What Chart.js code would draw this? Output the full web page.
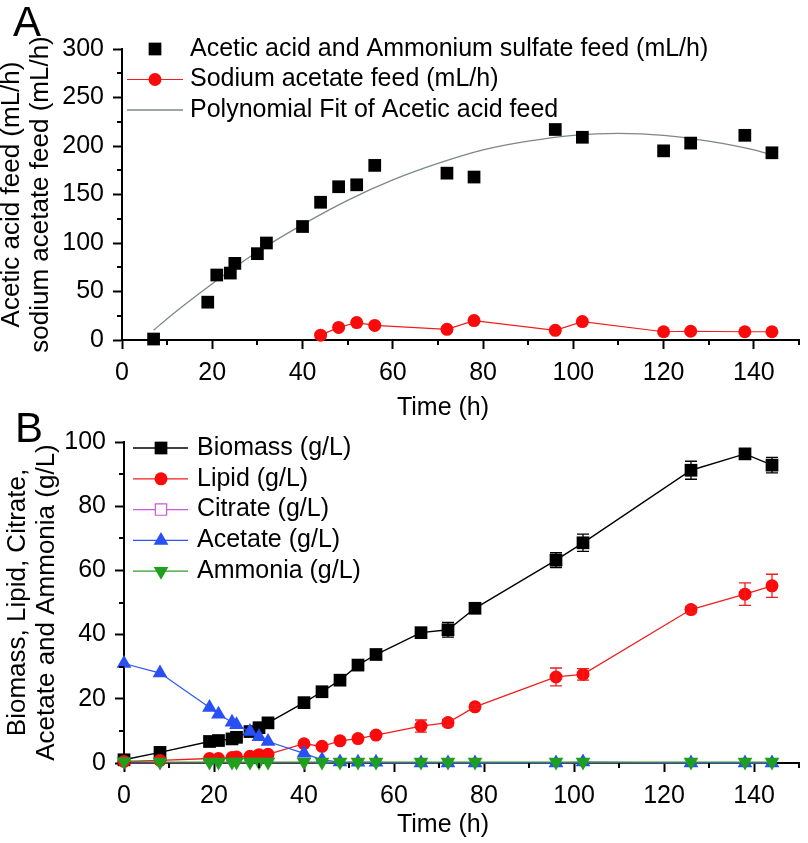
<!DOCTYPE html>
<html>
<head>
<meta charset="utf-8">
<title>Feed rates and fermentation profile</title>
<script src="https://cdn.jsdelivr.net/npm/chart.js@4.4.1/dist/chart.umd.min.js"></script>
<style>
  html, body { margin: 0; padding: 0; background: #fff; }
  #wrap { position: relative; width: 808px; height: 843px; overflow: hidden; }
  canvas { position: absolute; left: 0; }
  #graficoA { top: 0; }
  #graficoB { top: 400px; }
</style>
</head>
<body>
<div id="wrap">
  <canvas id="graficoA" width="808" height="425"></canvas>
  <canvas id="graficoB" width="808" height="443"></canvas>
</div>
<script>
// ---- Panel A: caudales de alimentacion (mL/h) ----
const tiempoAcido = [7, 19, 21, 24, 25, 30, 32, 40, 44, 48, 52, 56, 72, 78, 96, 102, 120, 126, 138, 144];
const acidoFeed = [1, 39, 67, 69, 79, 89, 100, 117, 142, 158, 160, 180, 172, 168, 217, 209, 195, 203, 211, 193];

const tiempoAcetatoNa = [44, 48, 52, 56, 72, 78, 96, 102, 120, 126, 138, 144];
const acetatoNaFeed = [5, 13, 18, 15, 11, 20, 10, 19, 8.5, 9, 8.5, 8.5];

// curva de ajuste
const tiempoAjuste = [7, 10, 20, 30, 40, 50, 60, 70, 80, 90, 100, 110, 120, 130, 140, 144];
const ajustePolinomico = [10, 22, 58, 91, 119, 144, 165, 182, 196, 205, 211, 213, 211, 205, 196, 191];

// ---- Panel B: concentraciones (g/L) ----
const tiempo = [0, 8, 19, 21, 24, 25, 28, 30, 32, 40, 44, 48, 52, 56, 66, 72, 78, 96, 102, 126, 138, 144];
const biomasa = [1, 3.3, 6.7, 7, 7.5, 8, 9.8, 11, 12.5, 18.8, 22.2, 25.8, 30.5, 33.8, 40.6, 41.5, 48.2, 63.2, 68.6, 91.2, 96.3, 92.8];
const biomasaErr = [0, 0, 0, 0, 0, 0, 0, 0, 0, 0, 0, 0, 0, 0, 1, 2.3, 0.5, 2.3, 2.7, 2.8, 1, 2.4];
const lipido = [0.5, 0.8, 1.4, 1.4, 1.7, 1.9, 2.1, 2.6, 2.7, 6, 5.2, 6.9, 7.6, 8.7, 11.5, 12.6, 17.5, 26.8, 27.6, 47.8, 52.6, 55.2];
const lipidoErr = [0, 0, 0, 0, 0, 0, 0, 0, 0, 0, 0, 0, 0, 0, 1.9, 1, 0.5, 2.8, 1.8, 1, 3.5, 3.6];
const citrato = [0, 0, 0, 0, 0, 0, 0, 0, 0, 0, 0, 0, 0, 0, 0, 0, 0, 0, 0, 0, 0, 0];
const acetato = [31, 28, 17.3, 15.2, 12.7, 11.9, 9.8, 8.2, 6.7, 3, 1, 0.3, 0.2, 0.2, 0, 0, 0, 0, 0.3, 0, 0, 0];
const amonio = [0.5, 0.3, 0.3, 0.3, 0.3, 0.3, 0.3, 0.3, 0.3, 0.3, 0.3, 0.3, 0.3, 0.3, 0.3, 0.3, 0.3, 0.3, 0.3, 0.3, 0.3, 0.3];

// etiquetas
const ejeTiempo = 'Time (h)';
const tituloYA = ['Acetic acid feed (mL/h)', 'sodium acetate feed (mL/h)'];
const tituloYB = ['Biomass, Lipid, Citrate,', 'Acetate and Ammonia (g/L)'];

const FUENTE = 'Arial, "Liberation Sans", sans-serif';
Chart.defaults.font.family = FUENTE;
Chart.defaults.color = '#000';

const puntos = (xs, ys) => xs.map((x, i) => ({ x: x, y: ys[i] }));

// ticks menores (mas cortos) dibujados a mano
const ticksMenores = {
    id: 'ticksMenores',
    afterDraw(chart, args, opts) {
        const { ctx, chartArea, scales } = chart;
        ctx.save();
        ctx.strokeStyle = '#000';
        ctx.lineWidth = 2;
        scales.x.ticks.forEach(t => {
            if (t.value % opts.mayorX === 0) return;
            const px = Math.round(scales.x.getPixelForValue(t.value));
            ctx.beginPath();
            ctx.moveTo(px, chartArea.bottom);
            ctx.lineTo(px, chartArea.bottom + 5);
            ctx.stroke();
        });
        scales.y.ticks.forEach(t => {
            if (t.value % opts.mayorY === 0) return;
            const py = Math.round(scales.y.getPixelForValue(t.value));
            ctx.beginPath();
            ctx.moveTo(chartArea.left, py);
            ctx.lineTo(chartArea.left - 5, py);
            ctx.stroke();
        });
        ctx.restore();
    }
};

// barras de error
const barrasError = {
    id: 'barrasError',
    afterDatasetsDraw(chart) {
        const { ctx, scales: { x, y } } = chart;
        ctx.save();
        chart.data.datasets.forEach(ds => {
            if (!ds.errores) return;
            ctx.strokeStyle = ds.borderColor;
            ctx.lineWidth = 1.3;
            ds.data.forEach((p, i) => {
                const e = ds.errores[i];
                if (!e) return;
                const px = x.getPixelForValue(p.x);
                const y1 = y.getPixelForValue(p.y + e);
                const y2 = y.getPixelForValue(p.y - e);
                ctx.beginPath();
                ctx.moveTo(px, y1); ctx.lineTo(px, y2);
                ctx.moveTo(px - 6, y1); ctx.lineTo(px + 6, y1);
                ctx.moveTo(px - 6, y2); ctx.lineTo(px + 6, y2);
                ctx.stroke();
            });
        });
        ctx.restore();
    }
};

// leyenda dentro del area del grafico
const leyenda = {
    id: 'leyenda',
    afterDraw(chart, args, opts) {
        const ctx = chart.ctx;
        ctx.save();
        ctx.font = '25px ' + FUENTE;
        ctx.textBaseline = 'middle';
        ctx.textAlign = 'left';
        chart.data.datasets.forEach((ds, i) => {
            const y = opts.y + i * opts.paso;
            const radio = ds.radioLeyenda !== undefined ? ds.radioLeyenda : ds.pointRadius;
            if (ds.showLine !== false) {
                ctx.strokeStyle = ds.borderColor;
                ctx.lineWidth = ds.borderWidth;
                ctx.beginPath();
                ctx.moveTo(opts.x1, y);
                ctx.lineTo(opts.x2, y);
                ctx.stroke();
            }
            if (radio > 0) {
                ctx.fillStyle = ds.pointBackgroundColor;
                ctx.strokeStyle = ds.pointBorderColor;
                ctx.lineWidth = ds.pointBorderWidth || 0;
                Chart.helpers.drawPoint(ctx, {
                    pointStyle: ds.pointStyle,
                    radius: radio,
                    rotation: ds.pointRotation || 0,
                    borderWidth: ds.pointBorderWidth || 0
                }, opts.xMarca, y);
            }
            ctx.fillStyle = '#000';
            ctx.fillText(ds.label, opts.xTexto, y);
        });
        ctx.restore();
    }
};

// letra del panel y titulo del eje x
const rotulos = {
    id: 'rotulos',
    afterDraw(chart, args, opts) {
        const ctx = chart.ctx;
        ctx.save();
        ctx.fillStyle = '#000';
        ctx.textBaseline = 'alphabetic';
        ctx.textAlign = 'left';
        ctx.font = '42px ' + FUENTE;
        ctx.fillText(opts.letra, opts.lx, opts.ly);
        ctx.font = '25px ' + FUENTE;
        ctx.textAlign = 'center';
        ctx.textBaseline = 'middle';
        ctx.fillText(ejeTiempo, opts.tx, opts.ty);
        ctx.restore();
    }
};

function ejeX(alto, z) {
    return {
        type: 'linear',
        min: 0, max: 150,
        z: z,
        afterFit: s => { s.height = alto; },
        border: { display: true, color: '#000', width: 2 },
        grid: {
            drawOnChartArea: false,
            tickLength: 9,
            tickWidth: 2,
            tickColor: c => (c.tick && c.tick.value % 20 === 0) ? '#000' : 'rgba(0,0,0,0)'
        },
        ticks: {
            stepSize: 10,
            autoSkip: false,
            maxRotation: 0,
            padding: 9,
            font: { size: 25 },
            callback: v => v % 20 === 0 ? v : ''
        }
    };
}

function ejeY(max, paso, mayor, ancho, titulo, pad) {
    return {
        type: 'linear',
        min: 0, max: max,
        afterFit: s => { s.width = ancho; },
        border: { display: true, color: '#000', width: 2 },
        grid: {
            drawOnChartArea: false,
            tickLength: 9,
            tickWidth: 2,
            tickColor: c => (c.tick && c.tick.value % mayor === 0) ? '#000' : 'rgba(0,0,0,0)'
        },
        ticks: {
            stepSize: paso,
            autoSkip: false,
            padding: 9,
            font: { size: 25 },
            callback: v => v % mayor === 0 ? v : ''
        },
        title: {
            display: true,
            text: titulo,
            font: { size: 26, lineHeight: 1.12 },
            padding: { top: pad, bottom: 0 }
        }
    };
}

// Grafico A
new Chart(document.getElementById('graficoA'), {
    type: 'line',
    data: {
        datasets: [{
            label: 'Acetic acid and Ammonium sulfate feed (mL/h)',
            data: puntos(tiempoAcido, acidoFeed),
            showLine: false,
            borderColor: '#000',
            borderWidth: 1,
            pointStyle: 'rect',
            pointRadius: 9,
            pointBackgroundColor: '#000',
            pointBorderColor: '#000',
            pointBorderWidth: 0,
            order: 1,
            clip: false
        }, {
            label: 'Sodium acetate feed (mL/h)',
            data: puntos(tiempoAcetatoNa, acetatoNaFeed),
            borderColor: 'rgb(240,30,30)',
            borderWidth: 1.2,
            pointStyle: 'circle',
            pointRadius: 6.5,
            pointBackgroundColor: 'rgb(250,10,10)',
            pointBorderColor: 'rgb(250,10,10)',
            pointBorderWidth: 0,
            order: 2,
            clip: false
        }, {
            label: 'Polynomial Fit of Acetic acid feed',
            data: puntos(tiempoAjuste, ajustePolinomico),
            borderColor: 'rgb(125,135,135)',
            borderWidth: 1.3,
            pointRadius: 0,
            cubicInterpolationMode: 'monotone',
            order: 3,
            clip: false
        }]
    },
    options: {
        responsive: false,
        animation: false,
        layout: { padding: { top: 49, right: 7, left: 0, bottom: 0 } },
        scales: {
            x: ejeX(85, 0),
            y: ejeY(300, 25, 50, 122, tituloYA, -3)
        },
        plugins: {
            legend: { display: false },
            tooltip: { enabled: false },
            ticksMenores: { mayorX: 20, mayorY: 50 },
            leyenda: { x1: 127, x2: 183, xMarca: 155, xTexto: 190, y: 49, paso: 30.5 },
            rotulos: { letra: 'A', lx: 13, ly: 36, tx: 443, ty: 408 }
        }
    },
    plugins: [ticksMenores, leyenda, rotulos]
});

// Grafico B
new Chart(document.getElementById('graficoB'), {
    type: 'line',
    data: {
        datasets: [{
            label: 'Biomass (g/L)',
            data: puntos(tiempo, biomasa),
            errores: biomasaErr,
            borderColor: '#000',
            borderWidth: 1.4,
            pointStyle: 'rect',
            pointRadius: 9,
            pointBackgroundColor: '#000',
            pointBorderColor: '#000',
            pointBorderWidth: 0,
            order: 5,
            clip: false
        }, {
            label: 'Lipid (g/L)',
            data: puntos(tiempo, lipido),
            errores: lipidoErr,
            borderColor: 'rgb(240,30,30)',
            borderWidth: 1.3,
            pointStyle: 'circle',
            pointRadius: 6.5,
            pointBackgroundColor: 'rgb(250,10,10)',
            pointBorderColor: 'rgb(250,10,10)',
            pointBorderWidth: 0,
            order: 4,
            clip: false
        }, {
            // citrato en cero: queda tapado por el eje y el amonio
            label: 'Citrate (g/L)',
            data: puntos(tiempo, citrato),
            borderColor: 'rgb(200,90,220)',
            borderWidth: 1.2,
            pointStyle: 'rect',
            pointRadius: 0,
            radioLeyenda: 8,
            pointBackgroundColor: '#fff',
            pointBorderColor: 'rgb(200,90,220)',
            pointBorderWidth: 1.2,
            order: 6,
            clip: false
        }, {
            label: 'Acetate (g/L)',
            data: puntos(tiempo, acetato),
            borderColor: 'rgb(45,85,240)',
            borderWidth: 1.2,
            pointStyle: 'triangle',
            pointRadius: 8.5,
            pointBackgroundColor: 'rgb(40,80,245)',
            pointBorderColor: 'rgb(40,80,245)',
            pointBorderWidth: 0,
            order: 2,
            clip: false
        }, {
            label: 'Ammonia (g/L)',
            data: puntos(tiempo, amonio),
            borderColor: 'rgb(40,160,40)',
            borderWidth: 1.2,
            pointStyle: 'triangle',
            pointRotation: 180,
            pointRadius: 8.5,
            pointBackgroundColor: 'rgb(30,160,30)',
            pointBorderColor: 'rgb(30,160,30)',
            pointBorderWidth: 0,
            order: 1,
            clip: false
        }]
    },
    options: {
        responsive: false,
        animation: false,
        layout: { padding: { top: 42, right: 5, left: 0, bottom: 0 } },
        scales: {
            x: ejeX(80, 1),
            y: ejeY(100, 10, 20, 124, tituloYB, 3)
        },
        plugins: {
            legend: { display: false },
            tooltip: { enabled: false },
            ticksMenores: { mayorX: 20, mayorY: 20 },
            leyenda: { x1: 133, x2: 188, xMarca: 161, xTexto: 197, y: 48, paso: 30.8 },
            rotulos: { letra: 'B', lx: 15, ly: 42, tx: 443, ty: 425 }
        }
    },
    plugins: [barrasError, ticksMenores, leyenda, rotulos]
});
</script>
</body>
</html>
